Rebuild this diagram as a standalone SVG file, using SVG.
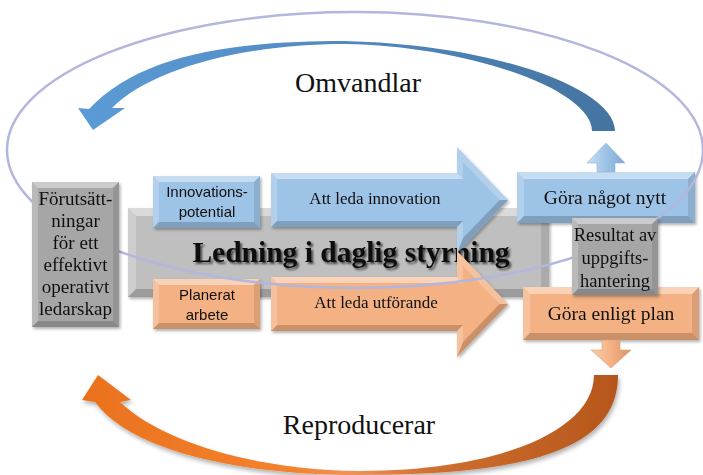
<svg xmlns="http://www.w3.org/2000/svg" width="703" height="475" viewBox="0 0 703 475">
<defs>
<style>
.serif{font-family:"Liberation Serif","DejaVu Serif",serif;fill:#111;text-anchor:middle}
.sans{font-family:"Liberation Sans","DejaVu Sans",sans-serif;fill:#111;text-anchor:middle;font-size:15px}
.lbl{font-size:17px}
.lbl2{font-size:19.5px}
.big{font-size:28px}
.fl{font-size:19px}
.rs{font-size:18.5px}
.bt{fill:#fff;opacity:.42}
.bl{fill:#fff;opacity:.22}
.br{fill:#000;opacity:.10}
.bb{fill:#000;opacity:.18}
.blue{fill:#9dc3e6}
.orange{fill:#f4b183}
.gray{fill:#a6a6a6}
.gray2{fill:#bfbfbf}
</style>
<filter id="sh" x="-10%" y="-10%" width="130%" height="130%">
<feDropShadow dx="1.5" dy="2" stdDeviation="1.5" flood-color="#000" flood-opacity=".3"/>
</filter>
<filter id="tsh" x="-5%" y="-20%" width="110%" height="150%">
<feDropShadow dx="2" dy="2" stdDeviation="1.2" flood-color="#000" flood-opacity=".65"/>
</filter>
<filter id="ash" x="-5%" y="-10%" width="115%" height="130%">
<feDropShadow dx="1.5" dy="3" stdDeviation="2" flood-color="#000" flood-opacity=".3"/>
</filter>
<linearGradient id="gBlueArc" gradientUnits="userSpaceOnUse" x1="80" y1="0" x2="620" y2="0">
<stop offset="0" stop-color="#5b9bd5"/>
<stop offset=".5" stop-color="#5189c0"/>
<stop offset="1" stop-color="#44739f"/>
</linearGradient>
<linearGradient id="gOrArc" gradientUnits="userSpaceOnUse" x1="80" y1="0" x2="620" y2="0">
<stop offset="0" stop-color="#e9711d"/>
<stop offset=".4" stop-color="#f4822e"/>
<stop offset=".5" stop-color="#f0935a"/>
<stop offset=".65" stop-color="#cf6f30"/>
<stop offset="1" stop-color="#b5561b"/>
</linearGradient>
<linearGradient id="gUp" x1="0" y1="0" x2="1" y2="0">
<stop offset="0" stop-color="#c9def3"/>
<stop offset=".5" stop-color="#9dc3e6"/>
<stop offset="1" stop-color="#7fa8d2"/>
</linearGradient>
<linearGradient id="gDown" x1="0" y1="0" x2="1" y2="0">
<stop offset="0" stop-color="#f9cfae"/>
<stop offset=".5" stop-color="#f4b183"/>
<stop offset="1" stop-color="#d99566"/>
</linearGradient>
</defs>
<rect width="703" height="475" fill="#fff"/>

<g id="n-ledning" filter="url(#sh)">
<rect class="gray2" x="128" y="208" width="421" height="89"/>
<polygon class="bt" points="128,208 549,208 541,216 136,216"/>
<polygon class="bl" points="128,208 136,216 136,289 128,297"/>
<polygon class="br" points="549,208 549,297 541,289 541,216"/>
<polygon class="bb" points="128,297 136,289 541,289 549,297"/>
</g>
<text class="serif" x="351" y="262" font-size="29.5" font-weight="bold" filter="url(#tsh)">Ledning i daglig styrning</text>

<g id="n-innovationspotential" filter="url(#sh)">
<rect class="blue" x="153" y="176" width="107" height="52"/>
<polygon class="bt" points="153,176 260,176 254,182 159,182"/>
<polygon class="bl" points="153,176 159,182 159,222 153,228"/>
<polygon class="br" points="260,176 260,228 254,222 254,182"/>
<polygon class="bb" points="153,228 159,222 254,222 260,228"/>
<text class="sans" x="207" y="197">Innovations-</text>
<text class="sans" x="207" y="217">potential</text>
</g>

<g id="n-planerat" filter="url(#sh)">
<rect class="orange" x="153" y="279" width="107" height="50"/>
<polygon class="bt" points="153,279 260,279 254,285 159,285"/>
<polygon class="bl" points="153,279 159,285 159,323 153,329"/>
<polygon class="br" points="260,279 260,329 254,323 254,285"/>
<polygon class="bb" points="153,329 159,323 254,323 260,329"/>
<text class="sans" x="207" y="300">Planerat</text>
<text class="sans" x="207" y="320">arbete</text>
</g>

<g id="n-att-leda-innovation" filter="url(#sh)">
<polygon class="blue" points="271,173 457,173 457,147 508,200 457,253 457,227 271,227"/>
<polygon class="bt" points="271,173 457,173 463,179 277,179"/>
<polygon class="bl" points="457,173 457,147 463,161.9 463,179"/>
<polygon class="bl" points="457,147 508,200 499.6,200 463,161.9"/>
<polygon class="bb" points="508,200 457,253 463,238.1 499.6,200"/>
<polygon class="bl" points="457,253 457,227 463,221 463,238.1"/>
<polygon class="bb" points="457,227 271,227 277,221 463,221"/>
<polygon class="bl" points="271,227 271,173 277,179 277,221"/>
<text class="serif lbl" x="375" y="204">Att leda innovation</text>
</g>

<g id="n-att-leda-utforande" filter="url(#sh)">
<polygon class="orange" points="271,277 457,277 457,251 508,304 457,357 457,331 271,331"/>
<polygon class="bt" points="271,277 457,277 463,283 277,283"/>
<polygon class="bl" points="457,277 457,251 463,265.9 463,283"/>
<polygon class="bl" points="457,251 508,304 499.6,304 463,265.9"/>
<polygon class="bb" points="508,304 457,357 463,342.1 499.6,304"/>
<polygon class="bl" points="457,357 457,331 463,325 463,342.1"/>
<polygon class="bb" points="457,331 271,331 277,325 463,325"/>
<polygon class="bl" points="271,331 271,277 277,283 277,325"/>
<text class="serif lbl" x="376" y="308">Att leda utförande</text>
</g>

<g id="n-gora-nagot-nytt" filter="url(#sh)">
<rect class="blue" x="517" y="172" width="178" height="51"/>
<polygon class="bt" points="517,172 695,172 688,179 524,179"/>
<polygon class="bl" points="517,172 524,179 524,216 517,223"/>
<polygon class="br" points="695,172 695,223 688,216 688,179"/>
<polygon class="bb" points="517,223 524,216 688,216 695,223"/>
<text class="serif lbl2" x="605" y="204">Göra något nytt</text>
</g>

<g id="n-gora-enligt-plan" filter="url(#sh)">
<rect class="orange" x="523" y="287" width="176" height="53"/>
<polygon class="bt" points="523,287 699,287 692,294 530,294"/>
<polygon class="bl" points="523,287 530,294 530,333 523,340"/>
<polygon class="br" points="699,287 699,340 692,333 692,294"/>
<polygon class="bb" points="523,340 530,333 692,333 699,340"/>
<text class="serif lbl2" x="611" y="320">Göra enligt plan</text>
</g>

<g id="connectors">
<path d="M615,131 C615,90 500,45 345,41 C230,41 140,55 89,109 L78,108 L93,130 L125,108 L112,108 C150,70 240,44 345,44 C470,46 592,90 592,131 Z" fill="url(#gBlueArc)"/>
<path d="M618,375 C618,445 540,475 360,475 C250,475 135,455 95,402 L82,400 L98,375 L131,400 L120,402 C160,440 250,470 360,471 C500,471 594,430 594,375 Z" fill="url(#gOrArc)" filter="url(#ash)"/>
<polygon points="597,172 597,163 587,163 606,143 625,163 615,163 615,172" fill="url(#gUp)" stroke="#8fb3d9" stroke-width=".6"/>
<polygon points="602,340 602,350 591,350 611,368 631,350 620,350 620,340" fill="url(#gDown)" stroke="#e0a072" stroke-width=".6"/>
<ellipse cx="355" cy="150" rx="348" ry="138" fill="none" stroke="#b3b6dd" stroke-width="2.5"/>
</g>

<g id="n-forutsattningar" filter="url(#sh)">
<rect class="gray" x="32" y="182" width="87" height="145"/>
<polygon class="bt" points="32,182 119,182 113,188 38,188"/>
<polygon class="bl" points="32,182 38,188 38,321 32,327"/>
<polygon class="br" points="119,182 119,327 113,321 113,188"/>
<polygon class="bb" points="32,327 38,321 113,321 119,327"/>
<text class="serif fl" x="75.5" y="205">Förutsätt-</text>
<text class="serif fl" x="75.5" y="227">ningar</text>
<text class="serif fl" x="75.5" y="249">för ett</text>
<text class="serif fl" x="75.5" y="271">effektivt</text>
<text class="serif fl" x="75.5" y="293">operativt</text>
<text class="serif fl" x="75.5" y="315">ledarskap</text>
</g>

<g id="n-resultat" filter="url(#sh)">
<rect class="gray" x="572" y="218" width="86" height="77"/>
<polygon class="bt" points="572,218 658,218 652,224 578,224"/>
<polygon class="bl" points="572,218 578,224 578,289 572,295"/>
<polygon class="br" points="658,218 658,295 652,289 652,224"/>
<polygon class="bb" points="572,295 578,289 652,289 658,295"/>
<text class="serif rs" x="615" y="241">Resultat av</text>
<text class="serif rs" x="615" y="264">uppgifts-</text>
<text class="serif rs" x="615" y="287">hantering</text>
</g>

<g id="n-omvandlar">
<text class="serif big" x="358" y="92">Omvandlar</text>
</g>
<g id="n-reproducerar">
<text class="serif big" x="359" y="434">Reproducerar</text>
</g>
</svg>
